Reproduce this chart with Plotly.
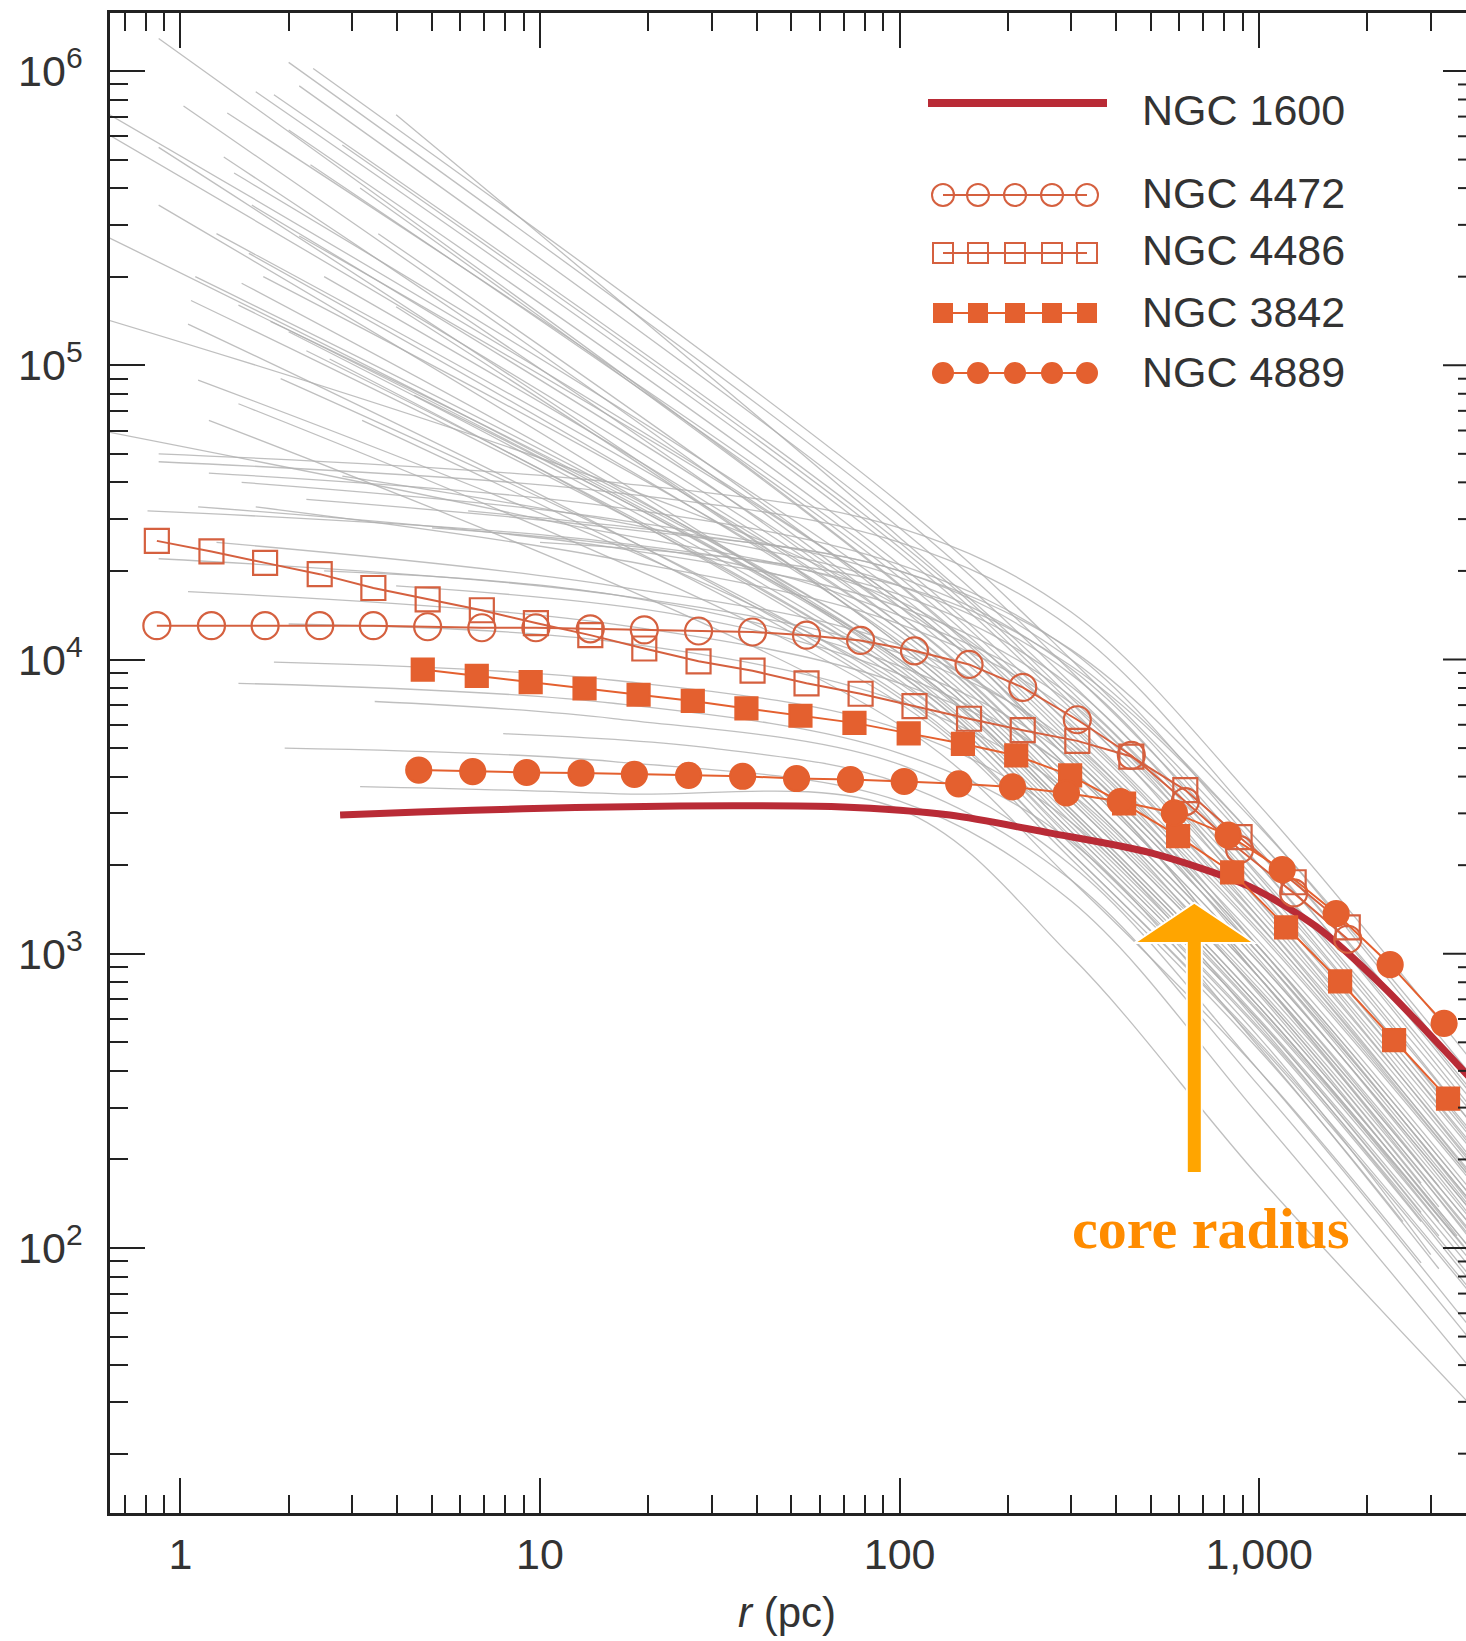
import math
import plotly.graph_objects as go

# ---------------------------------------------------------------------------
# Surface-density profiles (r in pc)
# ---------------------------------------------------------------------------
R_4472 = [0.86, 1.22, 1.72, 2.44, 3.44, 4.87, 6.89, 9.74, 13.8, 19.5, 27.6, 39.0,
          55.1, 77.9, 110, 156, 220, 312, 441, 623, 882, 1247, 1763]
S_4472 = [13030, 13030, 13030, 13030, 13030, 12920, 12820, 12820, 12710, 12610,
          12500, 12400, 12100, 11610, 10700, 9620, 8040, 6240, 4720, 3290, 2260,
          1610, 1120]

R_4486 = [0.86, 1.22, 1.72, 2.44, 3.44, 4.87, 6.89, 9.74, 13.8, 19.5, 27.6, 39.0,
          55.1, 77.9, 110, 156, 220, 312, 441, 623, 882, 1247, 1763]
S_4486 = [25300, 23300, 21300, 19500, 17500, 16000, 14700, 13300, 12100, 10900,
          9860, 9160, 8300, 7650, 6940, 6290, 5750, 5290, 4680, 3600, 2490, 1750,
          1230]

R_3842 = [4.72, 6.67, 9.42, 13.3, 18.8, 26.6, 37.5, 53.0, 74.9, 106, 150, 211,
          298, 421, 595, 841, 1188, 1679, 2372, 3351]
S_3842 = [9240, 8800, 8380, 7970, 7590, 7230, 6820, 6440, 6090, 5610, 5170, 4720,
          4040, 3240, 2510, 1890, 1230, 805, 509, 322]

R_4889 = [4.60, 6.50, 9.18, 13.0, 18.3, 25.9, 36.6, 51.7, 73.0, 103, 146, 206,
          291, 411, 581, 820, 1159, 1637, 2313, 3267]
S_4889 = [4210, 4160, 4130, 4110, 4070, 4040, 4010, 3940, 3910, 3850, 3780, 3690,
          3520, 3290, 3010, 2530, 1930, 1370, 918, 580]

R_1600 = [2.78, 4.59, 8.98, 17.5, 34.3, 67.0, 138, 261, 497, 942, 1442, 2214,
          3534, 4000]
S_1600 = [2960, 3030, 3110, 3160, 3185, 3160, 2960, 2575, 2205, 1690, 1236, 773,
          425, 360]

# comparison sample of other early-type galaxies (grey)
GREY_R = [
    [0.87, 100, 300, 1000, 3800], [0.60, 100, 300, 1000, 3800],
    [0.60, 100, 300, 1000, 3160], [1.02, 100, 300, 1000, 3800],
    [2.0, 100, 300, 1000, 3800], [2.34, 100, 300, 1000, 3800],
    [1.62, 100, 300, 1000, 3800], [1.32, 100, 300, 1000, 3800],
    [0.87, 100, 300, 1000, 2820], [0.87, 100, 300, 1000, 3800],
    [1.10, 100, 300, 1000, 3800], [1.07, 100, 300, 1000, 3160],
    [1.05, 100, 300, 1000, 3800], [0.60, 100, 300, 1000, 3800],
    [1.82, 100, 300, 1000, 3800], [2.14, 100, 300, 1000, 3800],
    [1.35, 100, 300, 1000, 3800], [1.70, 100, 300, 1000, 3800],
    [2.14, 100, 300, 1000, 3800], [1.45, 100, 300, 1000, 2510],
    [1.20, 100, 300, 1000, 2820], [2.51, 100, 300, 1000, 3800],
    [3.16, 100, 300, 1000, 3800], [1.58, 100, 300, 1000, 3800],
    [3.98, 100, 300, 1000, 3160], [2.24, 100, 300, 1000, 2820],
    [1.26, 100, 300, 1000, 3800],
    [0.60, 10, 100, 300, 1000, 3800], [0.87, 16, 100, 300, 1000, 3800],
    [0.87, 16, 100, 300, 1000, 3800], [1.20, 16, 100, 300, 1000, 3800],
    [1.48, 16, 100, 300, 1000, 3800], [0.81, 16, 100, 300, 1000, 3800],
    [1.12, 16, 100, 300, 1000, 3800], [1.62, 16, 100, 300, 1000, 3800],
    [0.87, 16, 100, 300, 1000, 3800], [1.05, 16, 100, 300, 1000, 3800],
    [1.82, 16, 100, 300, 1000, 3800], [1.45, 16, 100, 300, 1000, 3160],
    [3.47, 16, 100, 300, 1000, 3800], [1.95, 16, 100, 300, 1000, 3800],
    [3.16, 16, 100, 300, 1000, 3800], [2.51, 16, 100, 300, 1000, 3800],
    [3.98, 25, 100, 300, 1000, 3800], [2.0, 16, 100, 300, 1000, 3550],
    [5.01, 30, 100, 300, 1000, 3800], [2.82, 20, 100, 300, 1000, 3800],
    [2.82, 100, 300, 1000, 3800], [1.41, 100, 300, 1000, 3800],
    [3.55, 100, 300, 1000, 3800], [0.60, 100, 300, 1000, 3160],
    [1.78, 100, 300, 1000, 3800], [1.12, 100, 300, 1000, 2820],
    [4.47, 100, 300, 1000, 3800], [1.26, 16, 100, 300, 1000, 3800],
    [2.24, 16, 100, 300, 1000, 3800], [6.31, 30, 100, 300, 1000, 3800],
    [10, 100, 300, 1000, 3800], [7.9, 30, 100, 300, 1000, 3800],
    [2.0, 100, 300, 1000, 3800], [3.98, 100, 300, 1000, 3800],
    [1.55, 100, 300, 1000, 3800], [1.48, 100, 300, 1000, 3800],
    [1.45, 100, 300, 1000, 3500], [2.0, 100, 300, 1000, 3800],
    [2.6, 100, 300, 1000, 3800], [1.9, 100, 300, 1000, 3000],
    [3.2, 100, 300, 1000, 3800], [2.3, 100, 300, 1000, 3800],
]
GREY_S = [
    [1.29e6, 1.8e4, 5.4e3, 1.2e3, 178], [7.4e5, 1.58e4, 4.7e3, 1.05e3, 155],
    [6.3e5, 1.32e4, 3.9e3, 870, 162], [7.6e5, 1.41e4, 4.2e3, 930, 138],
    [1.07e6, 3.1e4, 9.1e3, 2.0e3, 300], [1.02e6, 3.4e4, 1.0e4, 2.2e3, 330],
    [8.5e5, 2.3e4, 6.8e3, 1.5e3, 224], [5.1e5, 1.32e4, 3.9e3, 870, 129],
    [5.5e5, 1.12e4, 3.3e3, 740, 166], [3.5e5, 9.5e3, 2.8e3, 630, 93],
    [2.0e5, 1.05e4, 3.1e3, 690, 102], [1.66e5, 8.9e3, 2.6e3, 590, 110],
    [1.38e5, 7.6e3, 2.2e3, 500, 74], [1.45e5, 1.51e4, 4.5e3, 1.0e3, 148],
    [8.3e5, 2.5e4, 7.4e3, 1.66e3, 245], [8.9e5, 2.8e4, 8.3e3, 1.86e3, 275],
    [7.2e5, 2.0e4, 5.9e3, 1.32e3, 195], [2.0e5, 1.2e4, 3.5e3, 790, 117],
    [2.75e5, 1.58e4, 4.7e3, 1.05e3, 155], [7.4e4, 7.1e3, 2.1e3, 470, 123],
    [6.5e4, 6.0e3, 1.78e3, 400, 89], [2.0e5, 1.26e4, 3.7e3, 830, 123],
    [4.0e5, 1.78e4, 5.2e3, 1.17e3, 174], [3.5e5, 1.41e4, 4.2e3, 930, 138],
    [1.58e5, 1.12e4, 3.3e3, 740, 138], [1.12e5, 8.9e3, 2.6e3, 590, 132],
    [2.8e5, 1.26e4, 3.7e3, 830, 123],
    [6.0e4, 3.0e4, 1.58e4, 6.0e3, 1.26e3, 178], [5.0e4, 4.0e4, 2.8e4, 1.45e4, 3.2e3, 450],
    [4.7e4, 3.7e4, 2.5e4, 1.28e4, 2.75e3, 375], [4.3e4, 3.3e4, 2.1e4, 1.07e4, 2.25e3, 310],
    [4.0e4, 3.0e4, 1.9e4, 9.3e3, 2.0e3, 275], [3.2e4, 2.5e4, 1.66e4, 8.1e3, 1.66e3, 229],
    [3.3e4, 2.4e4, 1.51e4, 7.5e3, 1.51e3, 209], [3.3e4, 2.2e4, 1.32e4, 6.6e3, 1.32e3, 182],
    [2.2e4, 1.66e4, 1.05e4, 5.2e3, 1.05e3, 145], [1.7e4, 1.32e4, 8.3e3, 4.2e3, 830, 115],
    [9.8e3, 8.5e3, 5.8e3, 2.8e3, 575, 79], [8.3e3, 7.1e3, 4.8e3, 2.4e3, 480, 85],
    [7.2e3, 6.3e3, 4.4e3, 2.0e3, 400, 55], [5.0e3, 4.5e3, 3.3e3, 1.51e3, 282, 40],
    [3.7e3, 3.5e3, 3.1e3, 980, 174, 30], [2.0e4, 1.66e4, 9.5e3, 4.6e3, 955, 132],
    [1.78e4, 1.41e4, 8.9e3, 4.2e3, 830, 110], [1.32e4, 1.15e4, 7.2e3, 3.5e3, 725, 110],
    [2.8e4, 2.2e4, 1.41e4, 7.1e3, 1.45e3, 200], [4.2e4, 2.8e4, 1.78e4, 8.9e3, 1.82e3, 251],
    [5.6e5, 2.4e4, 7.1e3, 1.58e3, 234], [4.5e5, 1.66e4, 4.9e3, 1.1e3, 162],
    [2.8e5, 1.51e4, 4.5e3, 1.0e3, 148], [2.8e5, 1.0e4, 3.0e3, 660, 123],
    [1.41e5, 1.05e4, 3.1e3, 690, 102], [8.9e4, 8.3e3, 2.45e3, 550, 123],
    [7.9e4, 1.0e4, 3.0e3, 660, 98], [2.5e4, 1.78e4, 1.12e4, 5.0e3, 1.0e3, 141],
    [3.5e4, 2.8e4, 2.0e4, 1.0e4, 2.4e3, 345], [3.2e4, 2.6e4, 2.0e4, 1.08e4, 2.7e3, 400],
    [2.5e4, 1.78e4, 9.5e3, 2.4e3, 355], [5.6e3, 5.0e3, 3.8e3, 1.78e3, 355, 50],
    [6.3e5, 2.1e4, 6.2e3, 1.38e3, 204], [7.1e5, 2.6e4, 7.8e3, 1.74e3, 257],
    [2.4e5, 1.15e4, 3.4e3, 760, 112], [1.9e5, 1.0e4, 3.0e3, 660, 97],
    [1.6e5, 9.8e3, 2.9e3, 640, 110], [1.3e5, 9.2e3, 2.7e3, 600, 88],
    [1.05e5, 8.5e3, 2.5e3, 560, 82], [9.0e4, 8.0e3, 2.35e3, 520, 95],
    [6.5e4, 7.4e3, 2.2e3, 490, 72], [4.8e5, 1.9e4, 5.6e3, 1.25e3, 185],
]

# axis ticks
X_TICKS = [1, 10, 100, 1000]
X_TICK_TEXT = ["1", "10", "100", "1,000"]
Y_TICKS = [1e2, 1e3, 1e4, 1e5, 1e6]
Y_TICK_TEXT = ["10<sup>2</sup>", "10<sup>3</sup>", "10<sup>4</sup>",
               "10<sup>5</sup>", "10<sup>6</sup>"]

CORE_RADIUS_PC = 660

# ---------------------------------------------------------------------------
# Page geometry
# ---------------------------------------------------------------------------
W, H = 1466, 1641
PL, PR, PT, PB = 110, 1466, 13, 1513
X_RANGE = [-0.1958, 3.5751]
Y_RANGE = [1.0994, 6.1971]

AX_COLOR = "#222222"
TXT_COLOR = "#333333"
SANS = "Liberation Sans, Arial, Helvetica, sans-serif"
OPEN_COLOR = "#D5603F"
FILL_COLOR = "#E4602F"
RED_1600 = "#B92B36"
GREY = "rgba(175,175,175,0.8)"


def xpaper_px(x):
    return (x - PL) / (PR - PL)


def ypaper_px(y):
    return (PB - y) / (PB - PT)


def xpaper_r(r):
    return (math.log10(r) - X_RANGE[0]) / (X_RANGE[1] - X_RANGE[0])


def ypaper_s(s):
    return (math.log10(s) - Y_RANGE[0]) / (Y_RANGE[1] - Y_RANGE[0])


x_minor = [0.7, 0.8, 0.9] + [k * 10 ** d for d in range(0, 3) for k in range(2, 10)] + [2000, 3000]
y_minor = [k * 10 ** d for d in range(1, 7) for k in range(2, 10)
           if Y_RANGE[0] < math.log10(k * 10 ** d) < Y_RANGE[1]]

fig = go.Figure()

# grey comparison profiles
for rr, ss in zip(GREY_R, GREY_S):
    fig.add_trace(go.Scatter(x=rr, y=ss, mode="lines",
                             line=dict(color=GREY, width=1.3, shape="spline", smoothing=1.0),
                             hoverinfo="skip", showlegend=False))

# NGC 1600
fig.add_trace(go.Scatter(x=R_1600, y=S_1600, mode="lines", name="NGC 1600",
                         line=dict(color=RED_1600, width=7, shape="spline", smoothing=0.8),
                         showlegend=False))

# marker series
series = [
    ("NGC 4472", R_4472, S_4472, "circle-open", 27, OPEN_COLOR),
    ("NGC 4486", R_4486, S_4486, "square-open", 24, OPEN_COLOR),
    ("NGC 3842", R_3842, S_3842, "square", 22, FILL_COLOR),
    ("NGC 4889", R_4889, S_4889, "circle", 25, FILL_COLOR),
]
for name, rr, ss, sym, size, col in series:
    fig.add_trace(go.Scatter(
        x=rr, y=ss, mode="lines+markers", name=name,
        line=dict(color=col, width=2),
        marker=dict(symbol=sym, size=size, color=col,
                    line=dict(color=col, width=2.2)),
        showlegend=False))

# ---------------------------------------------------------------------------
# Hand-drawn key (overlay axes in paper units)
# ---------------------------------------------------------------------------
key_marker_x = [943, 978, 1015, 1052, 1087]
key_rows = [
    ("NGC 4472", "circle-open", 22, OPEN_COLOR, 195, 193),
    ("NGC 4486", "square-open", 20, OPEN_COLOR, 253, 250),
    ("NGC 3842", "square", 18, FILL_COLOR, 313, 312),
    ("NGC 4889", "circle", 20, FILL_COLOR, 373, 372),
]
fig.add_trace(go.Scatter(x=[xpaper_px(928), xpaper_px(1107)],
                         y=[ypaper_px(103), ypaper_px(103)],
                         mode="lines", line=dict(color=RED_1600, width=8),
                         xaxis="x2", yaxis="y2", showlegend=False, hoverinfo="skip"))
annotations = [dict(x=xpaper_px(1140), y=ypaper_px(110), xref="paper", yref="paper",
                    text="NGC 1600", showarrow=False, xanchor="left", yanchor="middle",
                    font=dict(family=SANS, size=43, color=TXT_COLOR))]
for name, sym, size, col, ym, yt in key_rows:
    fig.add_trace(go.Scatter(x=[xpaper_px(v) for v in key_marker_x],
                             y=[ypaper_px(ym)] * len(key_marker_x),
                             mode="lines+markers", line=dict(color=col, width=2),
                             marker=dict(symbol=sym, size=size, color=col,
                                         line=dict(color=col, width=2)),
                             xaxis="x2", yaxis="y2", showlegend=False, hoverinfo="skip"))
    annotations.append(dict(x=xpaper_px(1140), y=ypaper_px(yt), xref="paper", yref="paper",
                            text=name, showarrow=False, xanchor="left", yanchor="middle",
                            font=dict(family=SANS, size=43, color=TXT_COLOR)))

# axis title
annotations.append(dict(x=xpaper_px(787), y=ypaper_px(1612), xref="paper", yref="paper",
                        text="<i>r</i> (pc)", showarrow=False, xanchor="center",
                        yanchor="middle", font=dict(family=SANS, size=42, color=TXT_COLOR)))

# core radius label
annotations.append(dict(x=xpaper_px(1211), y=ypaper_px(1228), xref="paper", yref="paper",
                        text="<b>core radius</b>", showarrow=False, xanchor="center",
                        yanchor="middle",
                        font=dict(family="Liberation Serif, Times New Roman, serif",
                                  size=58, color="#FF8C00")))

# ---------------------------------------------------------------------------
# Shapes: right-hand ticks and the core-radius arrow
# ---------------------------------------------------------------------------
shapes = []
for v in Y_TICKS:
    yp = ypaper_s(v)
    shapes.append(dict(type="line", xref="paper", yref="paper", x0=xpaper_px(1443), x1=1.0,
                       y0=yp, y1=yp, line=dict(color=AX_COLOR, width=2)))
for v in y_minor:
    yp = ypaper_s(v)
    shapes.append(dict(type="line", xref="paper", yref="paper", x0=xpaper_px(1458), x1=1.0,
                       y0=yp, y1=yp, line=dict(color=AX_COLOR, width=2)))

xc = xpaper_r(CORE_RADIUS_PC)
head_hw = 60 / (PR - PL)
shaft_hw = 7.5 / (PR - PL)
y_tip = ypaper_s(1490)
y_head = ypaper_s(1088)
y_tail = ypaper_s(180)
arrow_path = (f"M {xc - shaft_hw} {y_tail} L {xc - shaft_hw} {y_head} "
              f"L {xc - head_hw} {y_head} L {xc} {y_tip} L {xc + head_hw} {y_head} "
              f"L {xc + shaft_hw} {y_head} L {xc + shaft_hw} {y_tail} Z")
shapes.append(dict(type="path", xref="paper", yref="paper", path=arrow_path,
                   fillcolor="#FFA500", line=dict(color="white", width=2), layer="above"))

fig.update_layout(
    width=W, height=H, autosize=False,
    margin=dict(l=PL, r=W - PR, t=PT, b=H - PB, pad=0),
    paper_bgcolor="white", plot_bgcolor="white",
    showlegend=False,
    annotations=annotations,
    shapes=shapes,
    xaxis=dict(type="log", range=X_RANGE, tickvals=X_TICKS, ticktext=X_TICK_TEXT,
               ticks="inside", ticklen=35, tickwidth=2, tickcolor=AX_COLOR,
               showline=True, linecolor=AX_COLOR, linewidth=2.5, mirror="ticks",
               showgrid=False, zeroline=False, ticklabelstandoff=2,
               tickfont=dict(family=SANS, size=43, color=TXT_COLOR),
               minor=dict(tickvals=x_minor, ticks="inside", ticklen=18, tickwidth=2,
                          tickcolor=AX_COLOR, showgrid=False)),
    yaxis=dict(type="log", range=Y_RANGE, tickvals=Y_TICKS, ticktext=Y_TICK_TEXT,
               ticks="inside", ticklen=35, tickwidth=2, tickcolor=AX_COLOR,
               showline=True, linecolor=AX_COLOR, linewidth=2.5, mirror=False,
               showgrid=False, zeroline=False, ticklabelstandoff=16,
               tickfont=dict(family=SANS, size=43, color=TXT_COLOR),
               minor=dict(tickvals=y_minor, ticks="inside", ticklen=18, tickwidth=2,
                          tickcolor=AX_COLOR, showgrid=False)),
    xaxis2=dict(overlaying="x", anchor="y2", range=[0, 1], visible=False, fixedrange=True),
    yaxis2=dict(overlaying="y", anchor="x2", range=[0, 1], visible=False, fixedrange=True),
)

fig.write_html("out.html")
